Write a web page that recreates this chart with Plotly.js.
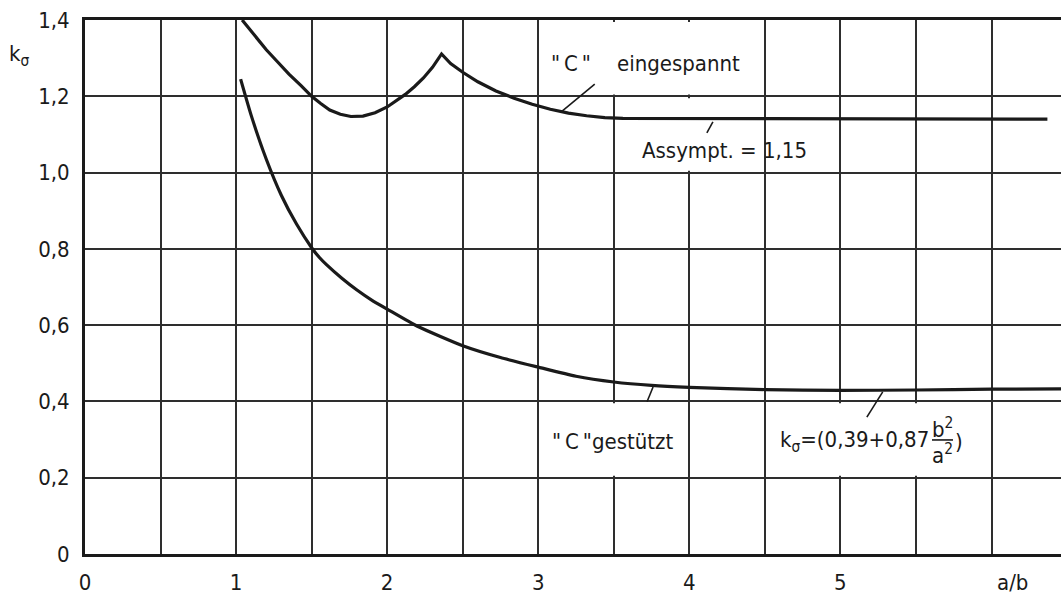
<!DOCTYPE html>
<html>
<head>
<meta charset="utf-8">
<script src="https://cdn.plot.ly/plotly-3.0.1.min.js"></script>
<style>html,body{margin:0;padding:0;background:#fff;}#chart{width:1061px;height:603px;}</style>
</head>
<body>
<div id="chart"></div>
<script>
// Upper curve: "C" eingespannt
const clampedX = [1.04, 1.12, 1.2, 1.28, 1.35, 1.43, 1.5, 1.56, 1.62, 1.69, 1.76, 1.84, 1.92, 2.0, 2.06, 2.12, 2.18, 2.24, 2.3, 2.36, 2.42, 2.5, 2.6, 2.72, 2.84, 2.96, 3.08, 3.2, 3.32, 3.44, 3.56, 3.7, 4.0, 5.0, 6.0, 6.37];
const clampedY = [1.40, 1.36, 1.322, 1.288, 1.258, 1.228, 1.20, 1.181, 1.164, 1.153, 1.147, 1.148, 1.157, 1.172, 1.188, 1.205, 1.225, 1.248, 1.276, 1.311, 1.286, 1.263, 1.238, 1.214, 1.195, 1.179, 1.166, 1.156, 1.149, 1.144, 1.142, 1.142, 1.142, 1.142, 1.141, 1.140];
// Lower curve: "C" gestützt
const supportedX = [1.03, 1.1, 1.2, 1.3, 1.4, 1.5, 1.55, 1.6, 1.7, 1.8, 1.9, 2.0, 2.2, 2.5, 2.75, 3.0, 3.25, 3.5, 3.75, 4.0, 4.5, 5.0, 5.5, 6.0, 6.46];
const supportedY = [1.245, 1.15, 1.035, 0.94, 0.865, 0.803, 0.778, 0.758, 0.723, 0.692, 0.665, 0.642, 0.597, 0.546, 0.515, 0.49, 0.466, 0.451, 0.442, 0.437, 0.431, 0.429, 0.430, 0.432, 0.433];
// Axis ticks
const xTickVals = [0, 1, 2, 3, 4, 5];
const xTickText = ["0", "1", "2", "3", "4", "5"];
const yTickVals = [0, 0.2, 0.4, 0.6, 0.8, 1.0, 1.2, 1.4];
const yTickText = ["0", "0,2", "0,4", "0,6", "0,8", "1,0", "1,2", "1,4"];

const FONT = "Liberation Sans Narrow, DejaVu Sans Condensed, Arial Narrow, sans-serif";
const INK = "#1a1a1a";
const GRID = "#2e2e2e";
const FS = 22;

const traces = [
  {x: clampedX, y: clampedY, mode: "lines", line: {color: INK, width: 3.2, shape: "linear"}, hoverinfo: "skip"},
  {x: supportedX, y: supportedY, mode: "lines", line: {color: INK, width: 3.2, shape: "spline", smoothing: 0.5}, hoverinfo: "skip"}
];

function box(x0, x1, y0, y1) {
  return {type: "rect", xref: "x", yref: "y", x0: x0, x1: x1, y0: y0, y1: y1,
          fillcolor: "#ffffff", line: {width: 0}, layer: "between"};
}
function seg(x0, y0, x1, y1) {
  return {type: "line", xref: "x", yref: "y", x0: x0, y0: y0, x1: x1, y1: y1,
          line: {color: INK, width: 1.6}, layer: "above"};
}

const shapes = [
  box(3.015, 4.485, 1.205, 1.395),
  box(3.515, 4.485, 1.005, 1.195),
  box(3.015, 3.985, 0.205, 0.395),
  box(4.515, 5.985, 0.205, 0.395),
  seg(3.374, 1.232, 3.158, 1.161),
  seg(4.156, 1.133, 4.116, 1.104),
  seg(3.76, 0.438, 3.72, 0.399),
  seg(5.28, 0.425, 5.175, 0.359),
  {type: "line", xref: "x", yref: "y", x0: 5.606, x1: 5.745, y0: 0.299, y1: 0.299,
   line: {color: INK, width: 1.6}, layer: "above"}
];

const tf = {family: FONT, size: FS, color: INK};
function ann(text, x, y, xanchor, extra) {
  return Object.assign({text: text, x: x, y: y, xref: "x", yref: "y", xanchor: xanchor || "center",
    yanchor: "middle", showarrow: false, font: tf}, extra || {});
}

const annotations = [
  ann('"\u2009C\u2009"', 3.215, 1.287),
  ann("eingespannt", 3.93, 1.287),
  ann("Assympt.\u00a0=\u00a01,15", 3.672, 1.059, "left"),
  ann('"\u2009C\u2009"gestützt', 3.076, 0.294, "left"),
  ann("k<sub>σ</sub>=(0,39+0,87", 5.60, 0.294, "right"),
  ann("b<sup>2</sup>", 5.675, 0.33),
  ann("a<sup>2</sup>", 5.675, 0.262),
  ann(")", 5.784, 0.294),
  {text: "a/b", xref: "x", yref: "paper", x: 6.136, y: -0.054, xanchor: "center", yanchor: "middle",
   showarrow: false, font: tf},
  {text: "k<sub>σ</sub>", xref: "paper", yref: "paper", x: -0.08, y: 0.933, xanchor: "left", yanchor: "middle",
   showarrow: false, font: tf}
];

const layout = {
  width: 1061, height: 603,
  margin: {l: 85, r: 0, t: 20, b: 49, pad: 0},
  paper_bgcolor: "#ffffff", plot_bgcolor: "#ffffff",
  showlegend: false,
  font: {family: FONT, size: FS, color: INK},
  xaxis: {
    range: [0, 6.46], tickmode: "array", tickvals: xTickVals, ticktext: xTickText,
    showgrid: true, gridcolor: GRID, gridwidth: 2,
    minor: {tickmode: "linear", tick0: 0, dtick: 0.5, showgrid: true, gridcolor: GRID, gridwidth: 2, ticks: ""},
    showline: true, linecolor: INK, linewidth: 3, mirror: true,
    zeroline: false, ticks: "", ticklabelstandoff: 7, fixedrange: true,
    tickfont: {family: FONT, size: FS, color: INK}
  },
  yaxis: {
    range: [0, 1.4], tickmode: "array", tickvals: yTickVals, ticktext: yTickText,
    showgrid: true, gridcolor: GRID, gridwidth: 2,
    showline: true, linecolor: INK, linewidth: 3,
    zeroline: false, ticks: "", ticklabelstandoff: 8, fixedrange: true,
    tickfont: {family: FONT, size: FS, color: INK}
  },
  shapes: shapes,
  annotations: annotations
};

Plotly.newPlot("chart", traces, layout, {displayModeBar: false, staticPlot: true});
</script>
</body>
</html>
